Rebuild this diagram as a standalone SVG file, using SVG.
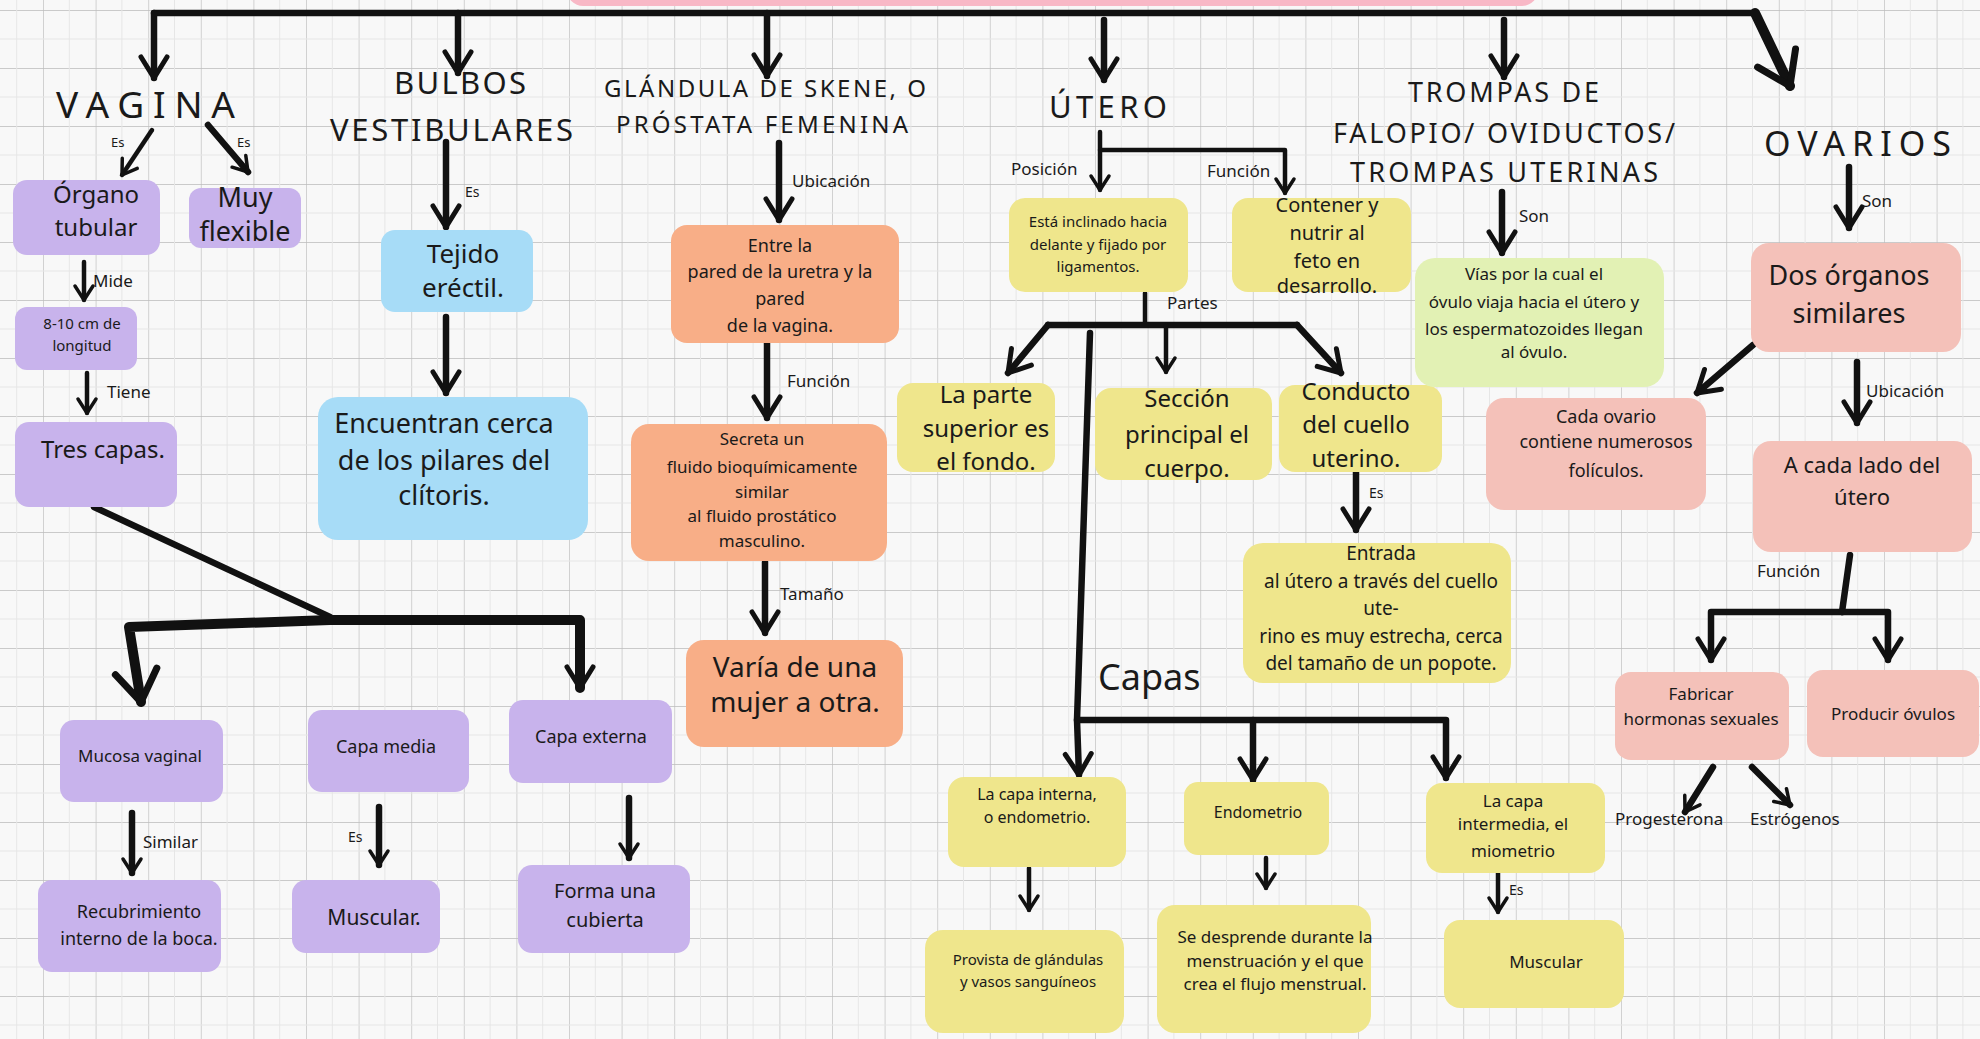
<svg xmlns="http://www.w3.org/2000/svg" width="1980" height="1039" viewBox="0 0 1980 1039">
<defs>
<pattern id="grid" x="43" y="10" width="52.6" height="58" patternUnits="userSpaceOnUse">
<path d="M0,0 V58 M0,0 H52.6" fill="none" stroke="#bcbcbc" stroke-width="1.3"/>
<path d="M26.3,0 V58 M0,29 H52.6" fill="none" stroke="#e6e6e6" stroke-width="1"/>
</pattern>
<marker id="ah" viewBox="0 0 24 24" refX="20" refY="12" markerWidth="24" markerHeight="24" markerUnits="userSpaceOnUse" orient="auto">
<path d="M6,3 L20,12 L6,21" fill="none" stroke="#111" stroke-width="3.5" stroke-linecap="round" stroke-linejoin="round"/>
</marker>
<marker id="ahM" viewBox="0 0 34 34" refX="29" refY="17" markerWidth="34" markerHeight="34" markerUnits="userSpaceOnUse" orient="auto">
<path d="M8,4 L29,17 L8,30" fill="none" stroke="#111" stroke-width="5" stroke-linecap="round" stroke-linejoin="round"/>
</marker>
<marker id="ahL" viewBox="0 0 50 50" refX="43" refY="25" markerWidth="50" markerHeight="50" markerUnits="userSpaceOnUse" orient="auto">
<path d="M12,4 L43,25 L12,46" fill="none" stroke="#111" stroke-width="7" stroke-linecap="round" stroke-linejoin="round"/>
</marker>
</defs>
<style>
text{font-family:"Noto Sans","DejaVu Sans",sans-serif;fill:#1a1a1a}
.t{text-anchor:middle}
.ttl{font-weight:400}
.lbl{font-size:17px}
.purple{fill:#c8b3ec}
.blue{fill:#a7dcf7}
.orange{fill:#f8ae87}
.yellow{fill:#efe68c}
.green{fill:#e2f1b4}
.pink{fill:#f4c1b9}
.c{fill:none;stroke:#111;stroke-width:4.5;stroke-linecap:round;stroke-linejoin:round}
.c6{fill:none;stroke:#111;stroke-width:6.5;stroke-linecap:round;stroke-linejoin:round}
.c9{fill:none;stroke:#111;stroke-width:10;stroke-linecap:round;stroke-linejoin:round}
.a{marker-end:url(#ah)}
.aM{marker-end:url(#ahM)}
.aL{marker-end:url(#ahL)}
</style>
<rect x="0" y="0" width="1980" height="1039" fill="#f8f8f8"/>
<rect x="0" y="0" width="1980" height="1039" fill="url(#grid)"/>
<rect x="567" y="-30" width="971" height="36" rx="16" fill="#f8b8c6"/>

<g id="connectors">
<path class="c6" d="M154,13 L1755,13"/>
<path class="c9 aL" d="M1755,13 L1790,86"/>
<path class="c6 aM" d="M154,13 L154,78"/>
<path class="c6 aM" d="M458,13 L458,73"/>
<path class="c6 aM" d="M767,13 L767,76"/>
<path class="c6 aM" d="M1104,20 L1104,80"/>
<path class="c6 aM" d="M1504,20 L1504,77"/>
<path class="c a" d="M152,130 L122,175"/>
<path class="c6 a" d="M208,125 L248,172"/>
<path class="c a" d="M84,262 L84,300"/>
<path class="c a" d="M87,373 L87,413"/>
<path class="c6" d="M94,507 L330,617"/>
<path class="c9 aL" d="M330,620 L129,627 L141,702"/>
<path class="c9 aM" d="M330,620 L580,620 L580,688"/>
<path class="c6 a" d="M132,813 L132,873"/>
<path class="c6 a" d="M379,807 L379,865"/>
<path class="c6 a" d="M629,798 L629,858"/>
<path class="c6 aM" d="M446,142 L446,227"/>
<path class="c6 aM" d="M446,317 L446,393"/>
<path class="c6 aM" d="M779,143 L779,220"/>
<path class="c6 aM" d="M767,342 L767,418"/>
<path class="c6 aM" d="M765,562 L765,633"/>
<path class="c a" d="M1100,132 L1100,190"/>
<path class="c a" d="M1100,150 L1285,150 L1285,193"/>
<path class="c" d="M1145,293 L1145,325"/>
<path class="c6" d="M1048,325 L1297,325"/>
<path class="c6 aM" d="M1048,325 L1008,373"/>
<path class="c a" d="M1166,325 L1166,372"/>
<path class="c6 aM" d="M1297,325 L1341,373"/>
<path class="c6 aM" d="M1090,333 L1077,720 L1079,775"/>
<path class="c6 aM" d="M1077,720 L1446,720 L1446,778"/>
<path class="c6 aM" d="M1253,720 L1253,780"/>
<path class="c6 aM" d="M1356,468 L1356,530"/>
<path class="c a" d="M1029,868 L1029,910"/>
<path class="c a" d="M1266,858 L1266,888"/>
<path class="c a" d="M1498,870 L1498,912"/>
<path class="c6 aM" d="M1502,192 L1502,253"/>
<path class="c6 aM" d="M1849,167 L1849,228"/>
<path class="c6 aM" d="M1753,345 L1697,393"/>
<path class="c6 aM" d="M1857,362 L1857,423"/>
<path class="c6" d="M1850,555 L1842,612"/>
<path class="c6 aM" d="M1842,612 L1711,612 L1711,660"/>
<path class="c6 aM" d="M1842,612 L1888,612 L1888,660"/>
<path class="c6 a" d="M1713,767 L1685,812"/>
<path class="c6 a" d="M1752,767 L1790,805"/>
</g>

<g id="labels">
<text x="111" y="147" style="font-size:13px">Es</text>
<text x="237" y="147" style="font-size:13px">Es</text>
<text x="93" y="287" class="lbl">Mide</text>
<text x="107" y="398" class="lbl">Tiene</text>
<text x="465" y="197" style="font-size:14px">Es</text>
<text x="792" y="187" class="lbl">Ubicación</text>
<text x="787" y="387" class="lbl">Función</text>
<text x="780" y="600" class="lbl">Tamaño</text>
<text x="1011" y="175" class="lbl">Posición</text>
<text x="1207" y="177" class="lbl">Función</text>
<text x="1167" y="309" class="lbl">Partes</text>
<text x="1369" y="498" style="font-size:14px">Es</text>
<text x="1098" y="690" style="font-size:36px">Capas</text>
<text x="1519" y="222" class="lbl">Son</text>
<text x="1862" y="207" class="lbl">Son</text>
<text x="1866" y="397" class="lbl">Ubicación</text>
<text x="1757" y="577" class="lbl">Función</text>
<text x="143" y="848" class="lbl">Similar</text>
<text x="348" y="842" style="font-size:14px">Es</text>
<text x="1509" y="895" style="font-size:14px">Es</text>
<text x="1615" y="825" class="lbl">Progesterona</text>
<text x="1750" y="825" class="lbl">Estrógenos</text>
</g>

<g id="titles">
<text id="t-vagina" class="ttl" x="56" y="118" style="font-size:37px" textLength="179" lengthAdjust="spacing">VAGINA</text>
<g id="t-bulbos">
<text class="ttl" x="394" y="94" style="font-size:31px" textLength="132" lengthAdjust="spacing">BULBOS</text>
<text class="ttl" x="330" y="141" style="font-size:31px" textLength="243" lengthAdjust="spacing">VESTIBULARES</text>
</g>
<g id="t-glandula">
<text class="ttl" x="604" y="97" style="font-size:24px" textLength="322" lengthAdjust="spacing">GLÁNDULA DE SKENE, O</text>
<text class="ttl" x="616" y="133" style="font-size:24px" textLength="292" lengthAdjust="spacing">PRÓSTATA FEMENINA</text>
</g>
<text id="t-utero" class="ttl" x="1049" y="118" style="font-size:31px" textLength="118" lengthAdjust="spacing">ÚTERO</text>
<g id="t-trompas">
<text class="ttl" x="1408" y="102" style="font-size:27px" textLength="191" lengthAdjust="spacing">TROMPAS DE</text>
<text class="ttl" x="1333" y="143" style="font-size:27px" textLength="342" lengthAdjust="spacing">FALOPIO/ OVIDUCTOS/</text>
<text class="ttl" x="1350" y="182" style="font-size:27px" textLength="308" lengthAdjust="spacing">TROMPAS UTERINAS</text>
</g>
<text id="t-ovarios" class="ttl" x="1764" y="156" style="font-size:34px" textLength="187" lengthAdjust="spacing">OVARIOS</text>
</g>

<g id="n-organo"><rect class="purple" x="13" y="180" width="147" height="75" rx="14"/><text class="t" x="96" y="203" style="font-size:24px">Órgano</text><text class="t" x="96" y="236" style="font-size:24px">tubular</text></g>
<g id="n-flexible"><rect class="purple" x="189" y="188" width="112" height="60" rx="12"/><text class="t" x="245" y="207" style="font-size:27px">Muy</text><text class="t" x="245" y="241" style="font-size:27px">flexible</text></g>
<g id="n-medida"><rect class="purple" x="15" y="307" width="122" height="63" rx="12"/><text class="t" x="82" y="329" style="font-size:15px">8-10 cm de</text><text class="t" x="82" y="351" style="font-size:15px">longitud</text></g>
<g id="n-tres"><rect class="purple" x="15" y="422" width="162" height="85" rx="14"/><text class="t" x="103" y="458" style="font-size:24px">Tres capas.</text></g>
<g id="n-mucosa"><rect class="purple" x="60" y="720" width="163" height="82" rx="14"/><text class="t" x="140" y="762" style="font-size:17px">Mucosa vaginal</text></g>
<g id="n-media"><rect class="purple" x="308" y="710" width="161" height="82" rx="14"/><text class="t" x="386" y="753" style="font-size:18px">Capa media</text></g>
<g id="n-externa"><rect class="purple" x="509" y="700" width="163" height="83" rx="14"/><text class="t" x="591" y="743" style="font-size:18px">Capa externa</text></g>
<g id="n-recub"><rect class="purple" x="38" y="880" width="183" height="92" rx="14"/><text class="t" x="139" y="918" style="font-size:18px">Recubrimiento</text><text class="t" x="139" y="945" style="font-size:18px">interno de la boca.</text></g>
<g id="n-muscular1"><rect class="purple" x="292" y="880" width="148" height="73" rx="14"/><text class="t" x="374" y="925" style="font-size:21px">Muscular.</text></g>
<g id="n-cubierta"><rect class="purple" x="518" y="865" width="172" height="88" rx="14"/><text class="t" x="605" y="898" style="font-size:20px">Forma una</text><text class="t" x="605" y="927" style="font-size:20px">cubierta</text></g>

<g id="n-tejido"><rect class="blue" x="381" y="230" width="152" height="82" rx="14"/><text class="t" x="463" y="263" style="font-size:26px">Tejido</text><text class="t" x="463" y="297" style="font-size:26px">eréctil.</text></g>
<g id="n-encuentran"><rect class="blue" x="318" y="397" width="270" height="143" rx="20"/><text class="t" x="444" y="433" style="font-size:27px">Encuentran cerca</text><text class="t" x="444" y="470" style="font-size:27px">de los pilares del</text><text class="t" x="444" y="505" style="font-size:27px">clítoris.</text></g>

<g id="n-entre"><rect class="orange" x="671" y="225" width="228" height="118" rx="16"/><text class="t" x="780" y="252" style="font-size:18px">Entre la</text><text class="t" x="780" y="278" style="font-size:18px">pared de la uretra y la</text><text class="t" x="780" y="305" style="font-size:18px">pared</text><text class="t" x="780" y="332" style="font-size:18px">de la vagina.</text></g>
<g id="n-secreta"><rect class="orange" x="631" y="424" width="256" height="137" rx="18"/><text class="t" x="762" y="445" style="font-size:17px">Secreta un</text><text class="t" x="762" y="473" style="font-size:17px">fluido bioquímicamente</text><text class="t" x="762" y="498" style="font-size:17px">similar</text><text class="t" x="762" y="522" style="font-size:17px">al fluido prostático</text><text class="t" x="762" y="547" style="font-size:17px">masculino.</text></g>
<g id="n-varia"><rect class="orange" x="686" y="640" width="217" height="107" rx="18"/><text class="t" x="795" y="677" style="font-size:28px">Varía de una</text><text class="t" x="795" y="712" style="font-size:28px">mujer a otra.</text></g>

<g id="n-esta"><rect class="yellow" x="1009" y="198" width="179" height="94" rx="16"/><text class="t" x="1098" y="227" style="font-size:15px">Está inclinado hacia</text><text class="t" x="1098" y="250" style="font-size:15px">delante y fijado por</text><text class="t" x="1098" y="272" style="font-size:15px">ligamentos.</text></g>
<g id="n-contener"><rect class="yellow" x="1232" y="198" width="179" height="94" rx="16"/><text class="t" x="1327" y="212" style="font-size:20px">Contener y</text><text class="t" x="1327" y="240" style="font-size:20px">nutrir al</text><text class="t" x="1327" y="268" style="font-size:20px">feto en</text><text class="t" x="1327" y="293" style="font-size:20px">desarrollo.</text></g>
<g id="n-parte"><rect class="yellow" x="897" y="383" width="158" height="89" rx="16"/><text class="t" x="986" y="403" style="font-size:24px">La parte</text><text class="t" x="986" y="437" style="font-size:24px">superior es</text><text class="t" x="986" y="470" style="font-size:24px">el fondo.</text></g>
<g id="n-seccion"><rect class="yellow" x="1095" y="388" width="177" height="92" rx="16"/><text class="t" x="1187" y="407" style="font-size:24px">Sección</text><text class="t" x="1187" y="443" style="font-size:24px">principal el</text><text class="t" x="1187" y="477" style="font-size:24px">cuerpo.</text></g>
<g id="n-conducto"><rect class="yellow" x="1279" y="385" width="163" height="87" rx="16"/><text class="t" x="1356" y="400" style="font-size:24px">Conducto</text><text class="t" x="1356" y="433" style="font-size:24px">del cuello</text><text class="t" x="1356" y="467" style="font-size:24px">uterino.</text></g>
<g id="n-entrada"><rect class="yellow" x="1243" y="543" width="268" height="140" rx="20"/><text class="t" x="1381" y="560" style="font-size:19px">Entrada</text><text class="t" x="1381" y="588" style="font-size:19px">al útero a través del cuello</text><text class="t" x="1381" y="615" style="font-size:19px">ute-</text><text class="t" x="1381" y="643" style="font-size:19px">rino es muy estrecha, cerca</text><text class="t" x="1381" y="670" style="font-size:19px">del tamaño de un popote.</text></g>
<g id="n-interna"><rect class="yellow" x="948" y="777" width="178" height="90" rx="16"/><text class="t" x="1037" y="800" style="font-size:16px">La capa interna,</text><text class="t" x="1037" y="823" style="font-size:16px">o endometrio.</text></g>
<g id="n-endometrio"><rect class="yellow" x="1184" y="782" width="145" height="73" rx="14"/><text class="t" x="1258" y="818" style="font-size:16px">Endometrio</text></g>
<g id="n-intermedia"><rect class="yellow" x="1426" y="783" width="179" height="90" rx="16"/><text class="t" x="1513" y="807" style="font-size:17px">La capa</text><text class="t" x="1513" y="830" style="font-size:17px">intermedia, el</text><text class="t" x="1513" y="857" style="font-size:17px">miometrio</text></g>
<g id="n-provista"><rect class="yellow" x="925" y="930" width="199" height="103" rx="18"/><text class="t" x="1028" y="965" style="font-size:15px">Provista de glándulas</text><text class="t" x="1028" y="987" style="font-size:15px">y vasos sanguíneos</text></g>
<g id="n-desprende"><rect class="yellow" x="1157" y="905" width="214" height="128" rx="18"/><text class="t" x="1275" y="943" style="font-size:17px">Se desprende durante la</text><text class="t" x="1275" y="967" style="font-size:17px">menstruación y el que</text><text class="t" x="1275" y="990" style="font-size:17px">crea el flujo menstrual.</text></g>
<g id="n-muscular2"><rect class="yellow" x="1444" y="920" width="180" height="88" rx="16"/><text class="t" x="1546" y="968" style="font-size:17px">Muscular</text></g>

<g id="n-vias"><rect class="green" x="1415" y="258" width="249" height="129" rx="20"/><text class="t" x="1534" y="280" style="font-size:17px">Vías por la cual el</text><text class="t" x="1534" y="308" style="font-size:17px">óvulo viaja hacia el útero y</text><text class="t" x="1534" y="335" style="font-size:17px">los espermatozoides llegan</text><text class="t" x="1534" y="358" style="font-size:17px">al óvulo.</text></g>

<g id="n-dos"><rect class="pink" x="1751" y="243" width="210" height="109" rx="18"/><text class="t" x="1849" y="285" style="font-size:27px">Dos órganos</text><text class="t" x="1849" y="323" style="font-size:27px">similares</text></g>
<g id="n-cada"><rect class="pink" x="1486" y="398" width="220" height="112" rx="18"/><text class="t" x="1606" y="423" style="font-size:18px">Cada ovario</text><text class="t" x="1606" y="448" style="font-size:18px">contiene numerosos</text><text class="t" x="1606" y="477" style="font-size:18px">folículos.</text></g>
<g id="n-lado"><rect class="pink" x="1753" y="441" width="219" height="111" rx="18"/><text class="t" x="1862" y="473" style="font-size:22px">A cada lado del</text><text class="t" x="1862" y="505" style="font-size:22px">útero</text></g>
<g id="n-fabricar"><rect class="pink" x="1615" y="672" width="174" height="88" rx="16"/><text class="t" x="1701" y="700" style="font-size:17px">Fabricar</text><text class="t" x="1701" y="725" style="font-size:17px">hormonas sexuales</text></g>
<g id="n-producir"><rect class="pink" x="1807" y="670" width="172" height="87" rx="16"/><text class="t" x="1893" y="720" style="font-size:17px">Producir óvulos</text></g>
</svg>
